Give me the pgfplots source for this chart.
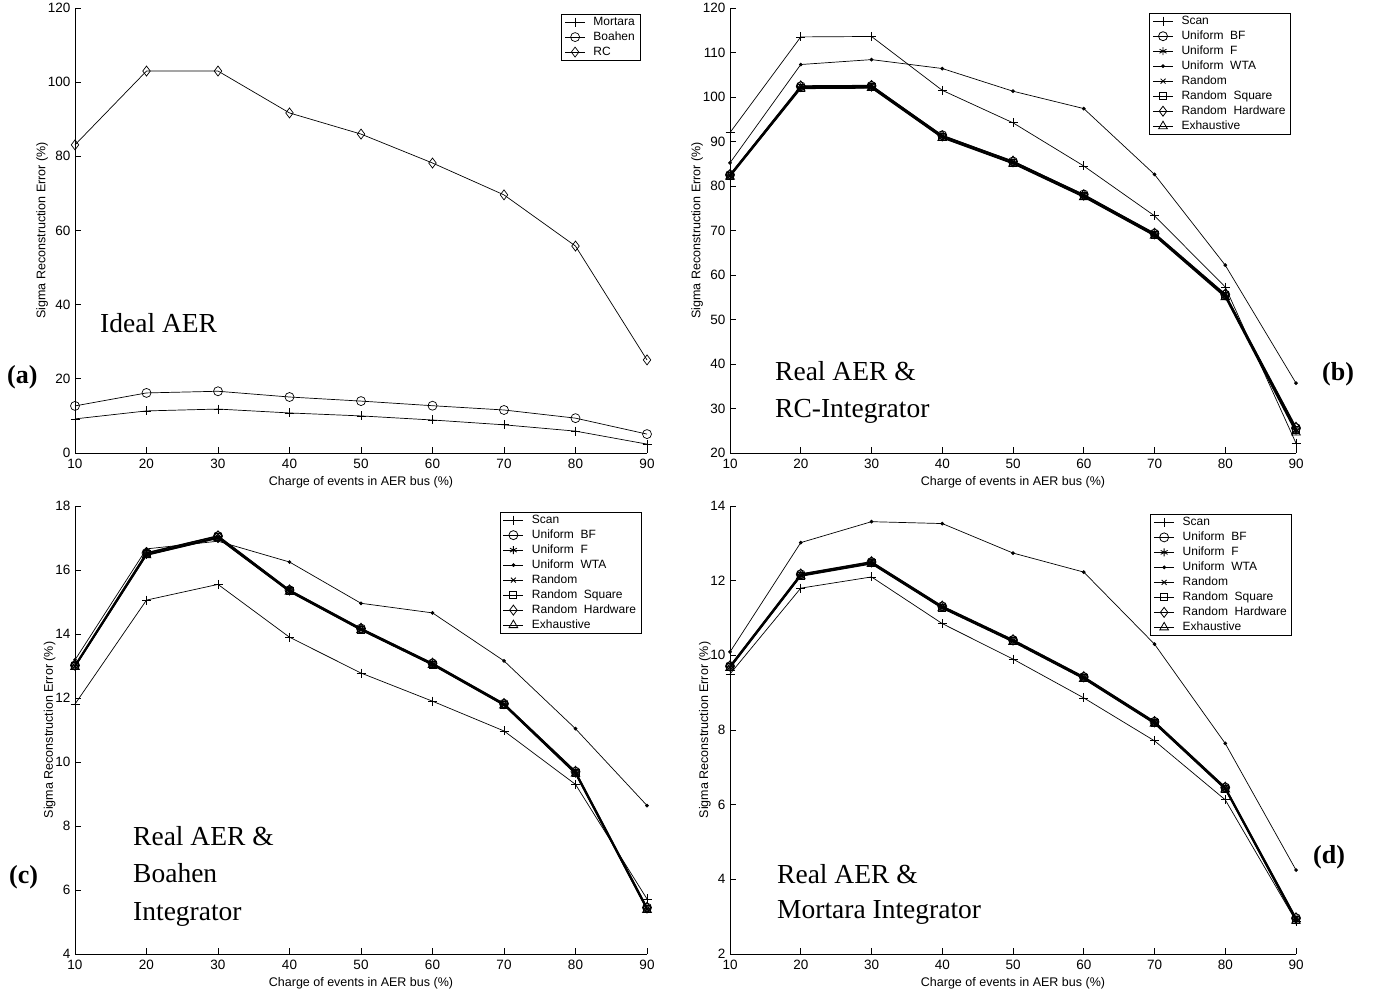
\documentclass[border=0pt]{standalone}
\usepackage{fontspec}
\setmainfont{Liberation Sans}
\newfontfamily\timesfont{Liberation Serif}
\usepackage{pgfplots}
\pgfplotsset{compat=1.18}
\usepackage{pgfplotstable}

\pgfplotstableread{
x mortara boahen rc
10 9.2 12.7 83.1
20 11.35 16.2 103.0
30 11.85 16.65 103.0
40 10.8 15.1 91.7
50 10.0 14.0 86.0
60 8.9 12.75 78.2
70 7.6 11.6 69.6
80 5.9 9.4 55.8
90 2.4 5.1 25.1
}\tabA

\pgfplotstableread{
x scan bf f wta rnd sq hw ex
10 92.0 82.5 82.2 85.2 82.4 82.3 82.6 82.1
20 113.5 102.4 102.0 107.3 102.3 102.1 102.5 101.9
30 113.6 102.5 102.1 108.4 102.4 102.2 102.6 102.0
40 101.5 91.4 90.9 106.4 91.2 91.0 91.3 90.8
50 94.2 85.5 85.1 101.3 85.4 85.2 85.6 85.0
60 84.5 78.1 77.6 97.4 77.9 77.7 78.0 77.5
70 73.3 69.3 68.9 82.6 69.2 69.0 69.4 68.8
80 57.3 55.6 55.2 62.2 55.5 55.3 55.7 55.0
90 22.2 25.6 24.9 35.7 25.3 25.1 25.8 24.6
}\tabB

\pgfplotstableread{
x scan bf f wta rnd sq hw ex
10 11.81 13.02 12.98 13.19 13.00 12.99 13.03 12.97
20 15.06 16.53 16.47 16.66 16.50 16.49 16.54 16.46
30 15.55 17.06 17.00 16.90 17.03 17.02 17.07 16.99
40 13.90 15.37 15.33 16.25 15.35 15.34 15.38 15.32
50 12.78 14.17 14.13 14.96 14.15 14.14 14.18 14.12
60 11.90 13.08 13.04 14.66 13.06 13.05 13.09 13.03
70 10.97 11.82 11.78 13.16 11.80 11.79 11.83 11.77
80 9.30 9.70 9.64 11.04 9.67 9.66 9.71 9.63
90 5.72 5.45 5.39 8.64 5.42 5.40 5.46 5.38
}\tabC

\pgfplotstableread{
x scan bf f wta rnd sq hw ex
10 9.50 9.71 9.67 10.09 9.69 9.68 9.72 9.66
20 11.80 12.17 12.13 13.02 12.15 12.14 12.18 12.12
30 12.10 12.50 12.46 13.58 12.48 12.47 12.51 12.45
40 10.85 11.31 11.27 13.53 11.29 11.28 11.32 11.26
50 9.90 10.41 10.37 12.74 10.39 10.38 10.42 10.36
60 8.86 9.42 9.38 12.23 9.40 9.39 9.43 9.37
70 7.71 8.22 8.18 10.30 8.20 8.19 8.23 8.17
80 6.13 6.46 6.42 7.64 6.44 6.43 6.47 6.41
90 2.88 2.96 2.90 4.25 2.93 2.91 2.97 2.89
}\tabD

\pgfplotsset{
  panel/.style={
    scale only axis,
    anchor=south west,
    xmin=10, xmax=90,
    xtick={10,20,...,90},
    axis lines=left,
    axis line style={-, line width=0.9pt},
    tick align=inside,
    major tick length=6pt,
    tick style={black, line width=0.8pt},
    /pgf/number format/assume math mode=true,
    ticklabel style={font=\fontsize{13.5}{14}\selectfont},
    xticklabel style={yshift=-2.5pt},
    yticklabel style={xshift=-1pt},
    xlabel={Charge of events in AER bus (\%)},
    ylabel={Sigma Reconstruction Error (\%)},
    label style={font=\fontsize{12.5}{14}\selectfont},
    xlabel style={yshift=-1pt},
    ylabel style={yshift=-7pt},
    clip=false,
    legend cell align=left,
    legend style={draw=black, line width=0.6pt, anchor=north east,
      font=\fontsize{12}{14}\selectfont,
      column sep=6pt,
      nodes={inner xsep=2pt, inner ysep=0pt, text height=10.5pt, text depth=4.5pt},
      inner xsep=3pt, inner ysep=0.5pt},
    legend image code/.code={%
      \draw[mark repeat=2,mark phase=2] plot coordinates {(0pt,0pt)(10pt,0pt)(20pt,0pt)};},
  },
  thin/.style={black, line width=0.7pt, mark options={solid, line width=0.7pt}},
  thick/.style={black, line width=1.1pt, mark options={solid, line width=0.8pt}},
}

\begin{document}
\begin{tikzpicture}[x=1pt,y=1pt]
\path[use as bounding box] (0pt,0pt) rectangle (1375pt,-992pt);

% (a)
\begin{axis}[panel, at={(75pt,-453pt)}, width=572pt, height=445pt,
  ymin=0, ymax=120, ytick={0,20,...,120},
  legend style={at={(rel axis cs:0.988,0.987)}}]
\addplot[thin, mark=+, mark size=4.5pt] table[y=mortara]{\tabA};
\addplot[thin, mark=o, mark size=4.5pt] table[y=boahen]{\tabA};
\addplot[thin, mark=diamond, mark size=5pt] table[y=rc]{\tabA};
\legend{Mortara, Boahen, RC}
\end{axis}

% (b)
\begin{axis}[panel, at={(730pt,-453pt)}, width=566pt, height=445pt,
  ymin=20, ymax=120, ytick={20,30,...,120},
  legend style={at={(rel axis cs:0.991,0.989)}}]
\addplot[thin, mark=+, mark size=4.5pt] table[y=scan]{\tabB};
\addplot[thick, mark=o, mark size=4.5pt] table[y=bf]{\tabB};
\addplot[thick, mark=asterisk, mark size=4pt] table[y=f]{\tabB};
\addplot[thin, mark=*, mark size=1.5pt] table[y=wta]{\tabB};
\addplot[thick, mark=x, mark size=3.5pt] table[y=rnd]{\tabB};
\addplot[thick, mark=square, mark size=3.5pt] table[y=sq]{\tabB};
\addplot[thick, mark=diamond, mark size=5pt] table[y=hw]{\tabB};
\addplot[thick, mark=triangle, mark size=5pt] table[y=ex]{\tabB};
\legend{Scan, Uniform\ \ BF, Uniform\ \ F, Uniform\ \ WTA, Random, Random\ \ Square, Random\ \ Hardware, Exhaustive}
\end{axis}

% (c)
\begin{axis}[panel, at={(75pt,-954pt)}, width=572pt, height=448pt,
  ymin=4, ymax=18, ytick={4,6,...,18},
  legend style={at={(rel axis cs:0.99,0.987)}}]
\addplot[thin, mark=+, mark size=4.5pt] table[y=scan]{\tabC};
\addplot[thick, mark=o, mark size=4.5pt] table[y=bf]{\tabC};
\addplot[thick, mark=asterisk, mark size=4pt] table[y=f]{\tabC};
\addplot[thin, mark=*, mark size=1.5pt] table[y=wta]{\tabC};
\addplot[thick, mark=x, mark size=3.5pt] table[y=rnd]{\tabC};
\addplot[thick, mark=square, mark size=3.5pt] table[y=sq]{\tabC};
\addplot[thick, mark=diamond, mark size=5pt] table[y=hw]{\tabC};
\addplot[thick, mark=triangle, mark size=5pt] table[y=ex]{\tabC};
\legend{Scan, Uniform\ \ BF, Uniform\ \ F, Uniform\ \ WTA, Random, Random\ \ Square, Random\ \ Hardware, Exhaustive}
\end{axis}

% (d)
\begin{axis}[panel, at={(730pt,-954pt)}, width=566pt, height=448pt,
  ymin=2, ymax=14, ytick={2,4,...,14},
  legend style={at={(rel axis cs:0.993,0.982)}}]
\addplot[thin, mark=+, mark size=4.5pt] table[y=scan]{\tabD};
\addplot[thick, mark=o, mark size=4.5pt] table[y=bf]{\tabD};
\addplot[thick, mark=asterisk, mark size=4pt] table[y=f]{\tabD};
\addplot[thin, mark=*, mark size=1.5pt] table[y=wta]{\tabD};
\addplot[thick, mark=x, mark size=3.5pt] table[y=rnd]{\tabD};
\addplot[thick, mark=square, mark size=3.5pt] table[y=sq]{\tabD};
\addplot[thick, mark=diamond, mark size=5pt] table[y=hw]{\tabD};
\addplot[thick, mark=triangle, mark size=5pt] table[y=ex]{\tabD};
\legend{Scan, Uniform\ \ BF, Uniform\ \ F, Uniform\ \ WTA, Random, Random\ \ Square, Random\ \ Hardware, Exhaustive}
\end{axis}

% panel annotations
\begin{scope}[every node/.style={inner sep=0pt, anchor=base west}]
\node[font=\timesfont\fontsize{27.5}{30}\selectfont] at (100pt,-332pt) {Ideal AER};
\node[font=\timesfont\bfseries\fontsize{26}{28}\selectfont] at (7pt,-383pt) {(a)};
\node[font=\timesfont\fontsize{27.5}{30}\selectfont] at (775pt,-380pt) {Real AER \&};
\node[font=\timesfont\fontsize{27.5}{30}\selectfont] at (775pt,-417pt) {RC-Integrator};
\node[font=\timesfont\bfseries\fontsize{26}{28}\selectfont] at (1322pt,-380pt) {(b)};
\node[font=\timesfont\fontsize{27.5}{30}\selectfont] at (133pt,-845pt) {Real AER \&};
\node[font=\timesfont\fontsize{27.5}{30}\selectfont] at (133pt,-882pt) {Boahen};
\node[font=\timesfont\fontsize{27.5}{30}\selectfont] at (133pt,-920pt) {Integrator};
\node[font=\timesfont\bfseries\fontsize{26}{28}\selectfont] at (9pt,-883pt) {(c)};
\node[font=\timesfont\fontsize{27.5}{30}\selectfont] at (777pt,-883pt) {Real AER \&};
\node[font=\timesfont\fontsize{27.5}{30}\selectfont] at (777pt,-918pt) {Mortara Integrator};
\node[font=\timesfont\bfseries\fontsize{26}{28}\selectfont] at (1313pt,-863pt) {(d)};
\end{scope}
\end{tikzpicture}
\end{document}
